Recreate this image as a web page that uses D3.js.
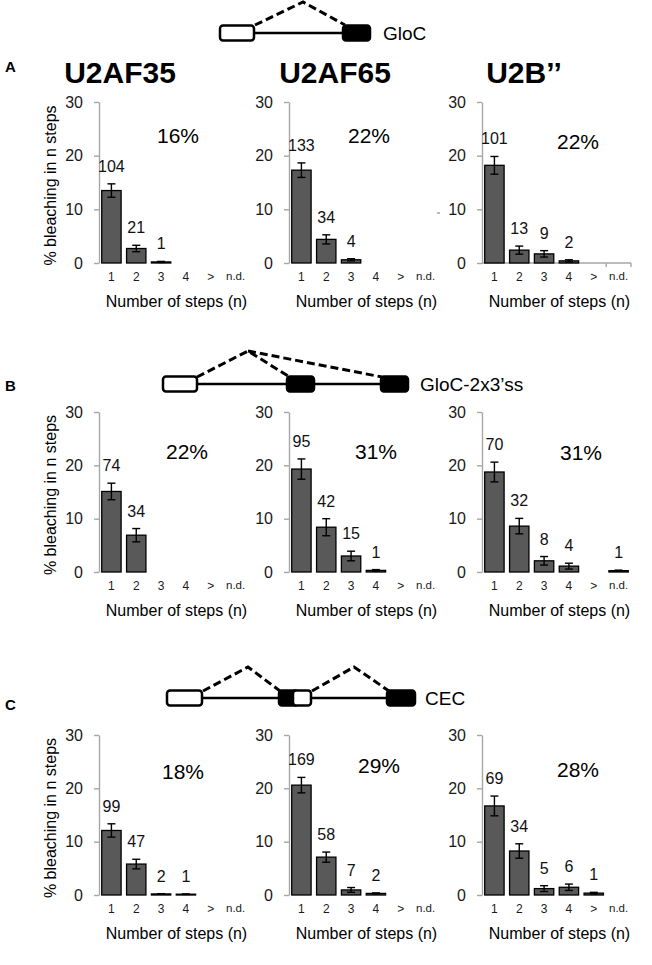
<!DOCTYPE html>
<html><head><meta charset="utf-8">
<script src="https://cdn.jsdelivr.net/npm/d3@7"></script>
<style>body{margin:0;background:#fff}</style>
</head><body><svg id="c" width="652" height="965"></svg>
<script>
// ---------- DATA ----------
const categories = ["1","2","3","4",">","n.d."];
const proteins = ["U2AF35","U2AF65","U2B’’"];
const constructs = ["GloC","GloC-2x3’ss","CEC"];
const panelLetters = ["A","B","C"];
const yTicks = [0,10,20,30];
const yTitle = "% bleaching in n steps";
const xTitle = "Number of steps (n)";

// Row A (GloC): one list per protein, values in % bleaching
const valuesA = [[13.5,2.7,0.2,null,null,null],[17.3,4.4,0.6,null,null,null],[18.2,2.4,1.7,0.4,null,null]];
const errorsA = [[1.25,0.6,0.1,null,null,null],[1.35,0.85,0.2,null,null,null],[1.65,0.75,0.6,0.2,null,null]];
const countsA = [["104","21","1","","",""],["133","34","4","","",""],["101","13","9","2","",""]];
const percentA = ["16%","22%","22%"];

// Row B (GloC-2x3'ss)
const valuesB = [[15.1,6.9,null,null,null,null],[19.3,8.4,3.0,0.3,null,null],[18.75,8.6,2.1,1.1,null,0.25]];
const errorsB = [[1.55,1.25,null,null,null,null],[1.9,1.6,0.9,0.15,null,null],[1.85,1.45,0.8,0.55,null,0.1]];
const countsB = [["74","34","","","",""],["95","42","15","1","",""],["70","32","8","4","","1"]];
const percentB = ["22%","31%","31%"];

// Row C (CEC)
const valuesC = [[12.1,5.8,0.2,0.15,null,null],[20.6,7.1,0.95,0.3,null,null],[16.7,8.25,1.2,1.45,0.35,null]];
const errorsC = [[1.25,0.9,0.05,0.05,null,null],[1.45,0.95,0.45,0.1,null,null],[1.85,1.35,0.55,0.6,0.15,null]];
const countsC = [["99","47","2","1","",""],["169","58","7","2","",""],["69","34","5","6","1",""]];
const percentC = ["18%","29%","28%"];

// ---------- LAYOUT ----------
const FONT = "'Liberation Sans', Arial, Helvetica, sans-serif";
const colX = [99, 289, 482];
const plotW = 149;
const rowY = [{y0:263,y30:102},{y0:572,y30:412},{y0:895,y30:735}];
const pctPos = [[[178,136],[369,136],[578,142]],[[187,452],[376,452],[581,453]],[[183,772],[379,766],[578,770]]];
const titleX = [120, 335, 524];

const rows = [
  {values:valuesA, errors:errorsA, counts:countsA, pct:percentA},
  {values:valuesB, errors:errorsB, counts:countsB, pct:percentB},
  {values:valuesC, errors:errorsC, counts:countsC, pct:percentC}
];

const svg = d3.select("#c").style("font-family", FONT);
svg.append("rect").attr("width",652).attr("height",965).attr("fill","#fff");

const AXIS = "#a6a6a6";

rows.forEach((row, r) => {
  const {y0, y30} = rowY[r];
  const y = d3.scaleLinear().domain([0,30]).range([y0, y30]);
  colX.forEach((x0, c) => {
    const x = d3.scaleBand().domain(categories).range([x0, x0+plotW]).paddingInner(0.22).paddingOuter(0.11);
    const g = svg.append("g");

    // y axis
    const ya = g.append("g").attr("transform", `translate(${x0},0)`)
      .call(d3.axisLeft(y).tickValues(yTicks).tickSize(5).tickSizeOuter(0).tickPadding(11));
    ya.select(".domain").attr("stroke", AXIS).attr("stroke-width", 1.4);
    ya.selectAll(".tick line").attr("stroke", AXIS).attr("stroke-width", 1.4);
    ya.selectAll("text").attr("font-size", 16).attr("font-family", FONT).attr("fill", "#1a1a1a");

    // x category labels
    const xa = g.append("g").attr("transform", `translate(0,${y0})`)
      .call(d3.axisBottom(x).tickSize(0).tickPadding(9));
    xa.select(".domain").remove();
    xa.selectAll("text").attr("font-size", d => d === "n.d." ? 11.5 : 12).attr("font-family", FONT).attr("fill", "#1a1a1a");

    if (r === 0 && c === 2) {
      g.append("line").attr("x1", x0).attr("x2", x0+plotW).attr("y1", y0).attr("y2", y0)
        .attr("stroke", AXIS).attr("stroke-width", 1.4);
      const bnd = [x(">") + x.bandwidth() + x.step()*x.paddingInner()/2, x0+plotW];
      bnd.forEach(b => g.append("line").attr("x1", b).attr("x2", b).attr("y1", y0).attr("y2", y0+4)
        .attr("stroke", AXIS).attr("stroke-width", 1.4));
    }

    const data = categories.map((k, i) => ({k, v: row.values[c][i], e: row.errors[c][i], n: row.counts[c][i]}))
      .filter(d => d.v !== null);

    // bars
    g.selectAll("rect.bar").data(data).join("rect").attr("class","bar")
      .attr("x", d => x(d.k)).attr("width", x.bandwidth())
      .attr("y", d => y(d.v)).attr("height", d => y0 - y(d.v))
      .attr("fill", "#595959").attr("stroke", "#000").attr("stroke-width", 1.3);

    // error bars
    const eb = g.selectAll("g.err").data(data.filter(d => d.e)).join("g").attr("class","err");
    const cx = d => x(d.k) + x.bandwidth()/2;
    eb.append("line").attr("x1", cx).attr("x2", cx).attr("y1", d => y(d.v - d.e)).attr("y2", d => y(d.v + d.e));
    eb.append("line").attr("x1", d => cx(d)-4).attr("x2", d => cx(d)+4).attr("y1", d => y(d.v + d.e)).attr("y2", d => y(d.v + d.e));
    eb.append("line").attr("x1", d => cx(d)-4).attr("x2", d => cx(d)+4).attr("y1", d => y(d.v - d.e)).attr("y2", d => y(d.v - d.e));
    eb.selectAll("line").attr("stroke", "#000").attr("stroke-width", 1.4);

    // count labels
    g.selectAll("text.cnt").data(data.filter(d => d.n)).join("text").attr("class","cnt")
      .attr("x", cx).attr("y", d => y(d.v + (d.e || 0)) - 12)
      .attr("text-anchor", "middle").attr("font-size", 16).attr("fill", "#111").text(d => d.n);

    // percent
    g.append("text").attr("x", pctPos[r][c][0]).attr("y", pctPos[r][c][1]).attr("dy", "0.35em")
      .attr("text-anchor", "middle").attr("font-size", 21).attr("fill", "#000").text(row.pct[c]);

    // x title
    g.append("text").attr("x", x0 + plotW/2 + 3).attr("y", y0 + 44)
      .attr("text-anchor", "middle").attr("font-size", 16).attr("fill", "#000").text(xTitle);

    // y title
    if (c === 0) {
      g.append("text").attr("transform", `translate(50,${(y0+y30)/2 + 3}) rotate(-90)`)
        .attr("dy", "0.35em").attr("text-anchor", "middle").attr("font-size", 16).attr("fill", "#000").text(yTitle);
    }
  });
});

// protein titles
proteins.forEach((p, i) => {
  svg.append("text").attr("x", titleX[i]).attr("y", 83).attr("text-anchor", "middle")
    .attr("font-size", 30).attr("font-weight", "bold").attr("fill", "#000").text(p);
});

// panel letters
const letterPos = [[5,72],[5,391],[5,710]];
panelLetters.forEach((L, i) => {
  svg.append("text").attr("x", letterPos[i][0]).attr("y", letterPos[i][1])
    .attr("font-size", 15).attr("font-weight", "bold").attr("fill", "#000").text(L);
});

// ---------- construct diagrams ----------
function exon(x1, x2, yc, filled) {
  svg.append("rect").attr("x", x1).attr("y", yc - 7.5).attr("width", x2 - x1).attr("height", 15)
    .attr("rx", 3).attr("fill", filled ? "#000" : "#fff").attr("stroke", "#000").attr("stroke-width", 2.5);
}
function intron(x1, x2, yc) {
  svg.append("line").attr("x1", x1).attr("x2", x2).attr("y1", yc).attr("y2", yc)
    .attr("stroke", "#000").attr("stroke-width", 2.5);
}
function splice(pts) {
  svg.append("path").attr("d", d3.line()(pts)).attr("fill", "none")
    .attr("stroke", "#000").attr("stroke-width", 3).attr("stroke-dasharray", "8,4");
}
function label(t, x, yc) {
  svg.append("text").attr("x", x).attr("y", yc).attr("dy", "0.35em").attr("font-size", 19)
    .attr("fill", "#000").text(t);
}

// GloC
intron(254, 343, 33);
splice([[255,25],[303,2],[345,25]]);
exon(220, 254, 33, false);
exon(343, 370, 33, true);
label(constructs[0], 383, 33);

// GloC-2x3'ss
intron(197, 381, 384);
splice([[197,377],[248,351],[288,376]]);
splice([[248,351],[382,377]]);
exon(163, 197, 384, false);
exon(287, 314, 384, true);
exon(381, 408, 384, true);
label(constructs[1], 420, 384);

// CEC
intron(202, 388, 698);
splice([[203,691],[248,667],[280,691]]);
splice([[312,691],[354,667],[389,691]]);
exon(167, 202, 698, false);
exon(279, 298, 698, true);
exon(293, 311, 698, false);
exon(387, 415, 698, true);
label(constructs[2], 425, 698);

// small stray mark near U2B'' axis
svg.append("line").attr("x1", 437).attr("x2", 440).attr("y1", 213).attr("y2", 213).attr("stroke", "#777").attr("stroke-width", 1);
</script>
</body></html>
